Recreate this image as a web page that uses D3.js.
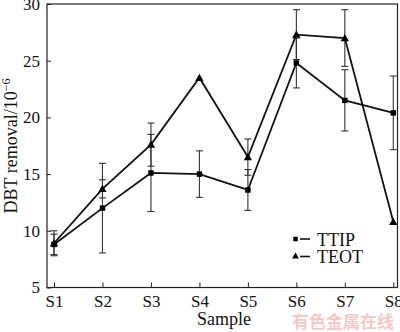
<!DOCTYPE html>
<html><head><meta charset="utf-8">
<script src="https://cdn.jsdelivr.net/npm/d3@7"></script>
<style>body{margin:0;background:#fff}svg{display:block}</style>
</head><body>
<svg id="c" width="400" height="332"></svg>
<script>
const categories = ["S1","S2","S3","S4","S5","S6","S7","S8"];
const ttip    = [8.8, 12.0, 15.1, 15.0, 13.6, 24.8, 21.5, 20.4];
const ttipErr = [0.9, 3.95, 3.4, 2.05, 1.8, 2.2, 2.7, 3.25];
const teot    = [8.9, 13.7, 17.6, 23.5, 16.5, 27.3, 27.0, 10.8];
const teotErr = [1.1, 0.8, 1.9, 0, 1.6, 2.2, 2.5, 0];
const yTicks  = [5, 10, 15, 20, 25, 30];

const svg = d3.select("#c");
const L = 47, R = 397.5, T = 4, B = 287.5;
const x = d3.scalePoint().domain(categories).range([54, 393.3]);
const y = d3.scaleLinear().domain([5, 30]).range([B, T]);
const font = "'Liberation Serif','Times New Roman',serif";

// frame
svg.append("rect").attr("x", L).attr("y", T).attr("width", R - L).attr("height", B - T)
  .attr("fill", "none").attr("stroke", "#222").attr("stroke-width", 1.2);

// y axis
const ya = svg.append("g").attr("transform", `translate(${L},0)`)
  .call(d3.axisLeft(y).tickValues(yTicks).tickSize(-4).tickPadding(7).tickFormat(d3.format("d")));
ya.select(".domain").remove();
ya.selectAll("line").attr("stroke", "#222");
ya.selectAll("text").attr("font-family", font).attr("font-size", 17).attr("fill", "#111");

// x axis
const xa = svg.append("g").attr("transform", `translate(0,${B})`)
  .call(d3.axisBottom(x).tickSize(-5).tickPadding(7));
xa.select(".domain").remove();
xa.selectAll("line").attr("stroke", "#222");
xa.selectAll("text").attr("font-family", font).attr("font-size", 17).attr("fill", "#111");

// axis titles
svg.append("text").attr("x", 224).attr("y", 325).attr("text-anchor", "middle")
  .attr("font-family", font).attr("font-size", 18).attr("fill", "#111").text("Sample");
const yt = svg.append("text").attr("transform", "translate(17,146) rotate(-90)")
  .attr("text-anchor", "middle").attr("font-family", font).attr("font-size", 18).attr("fill", "#111");
yt.append("tspan").text("DBT removal/10");
yt.append("tspan").attr("dy", -7).attr("font-size", 12).text("\u22126");

// error bars
function errBars(vals, errs) {
  const g = svg.append("g").attr("stroke", "#333").attr("stroke-width", 1.1);
  categories.forEach((c, i) => {
    if (!errs[i]) return;
    const cx = x(c), y0 = y(vals[i] - errs[i]), y1 = y(vals[i] + errs[i]);
    g.append("line").attr("x1", cx).attr("x2", cx).attr("y1", y0).attr("y2", y1);
    g.append("line").attr("x1", cx - 3.5).attr("x2", cx + 3.5).attr("y1", y0).attr("y2", y0);
    g.append("line").attr("x1", cx - 3.5).attr("x2", cx + 3.5).attr("y1", y1).attr("y2", y1);
  });
}
errBars(ttip, ttipErr);
errBars(teot, teotErr);

// lines
const line = d3.line().x((d, i) => x(categories[i])).y(d => y(d));
svg.append("path").datum(ttip).attr("d", line).attr("fill", "none").attr("stroke", "#111").attr("stroke-width", 1.8);
svg.append("path").datum(teot).attr("d", line).attr("fill", "none").attr("stroke", "#111").attr("stroke-width", 1.8);

// markers
const sq = d3.symbol().type(d3.symbolSquare).size(30);
const tri = d3.symbol().type(d3.symbolTriangle).size(30);
svg.append("g").selectAll("path").data(ttip).join("path")
  .attr("transform", (d, i) => `translate(${x(categories[i])},${y(d)})`).attr("d", sq).attr("fill", "#000");
svg.append("g").selectAll("path").data(teot).join("path")
  .attr("transform", (d, i) => `translate(${x(categories[i])},${y(d) + 0.8})`).attr("d", tri).attr("fill", "#000");

// legend
const leg = [{name: "TTIP", sym: d3.symbol().type(d3.symbolSquare).size(20), yy: 239},
             {name: "TEOT", sym: d3.symbol().type(d3.symbolTriangle).size(20), yy: 256.5}];
leg.forEach(l => {
  svg.append("path").attr("transform", `translate(295.5,${l.yy})`).attr("d", l.sym).attr("fill", "#000");
  svg.append("line").attr("x1", 300).attr("x2", 310).attr("y1", l.yy).attr("y2", l.yy)
    .attr("stroke", "#111").attr("stroke-width", 1.6);
  svg.append("text").attr("x", 317).attr("y", l.yy + 6.5).attr("font-family", font)
    .attr("font-size", 18).attr("fill", "#111").text(l.name);
});

// watermark
svg.append("text").attr("x", 394).attr("y", 328).attr("text-anchor", "end")
  .attr("font-family", "'Noto Sans CJK SC'").attr("font-weight", "bold").attr("font-size", 17)
  .attr("fill", "#f6c9c9").text("有色金属在线");
</script>
</body></html>
